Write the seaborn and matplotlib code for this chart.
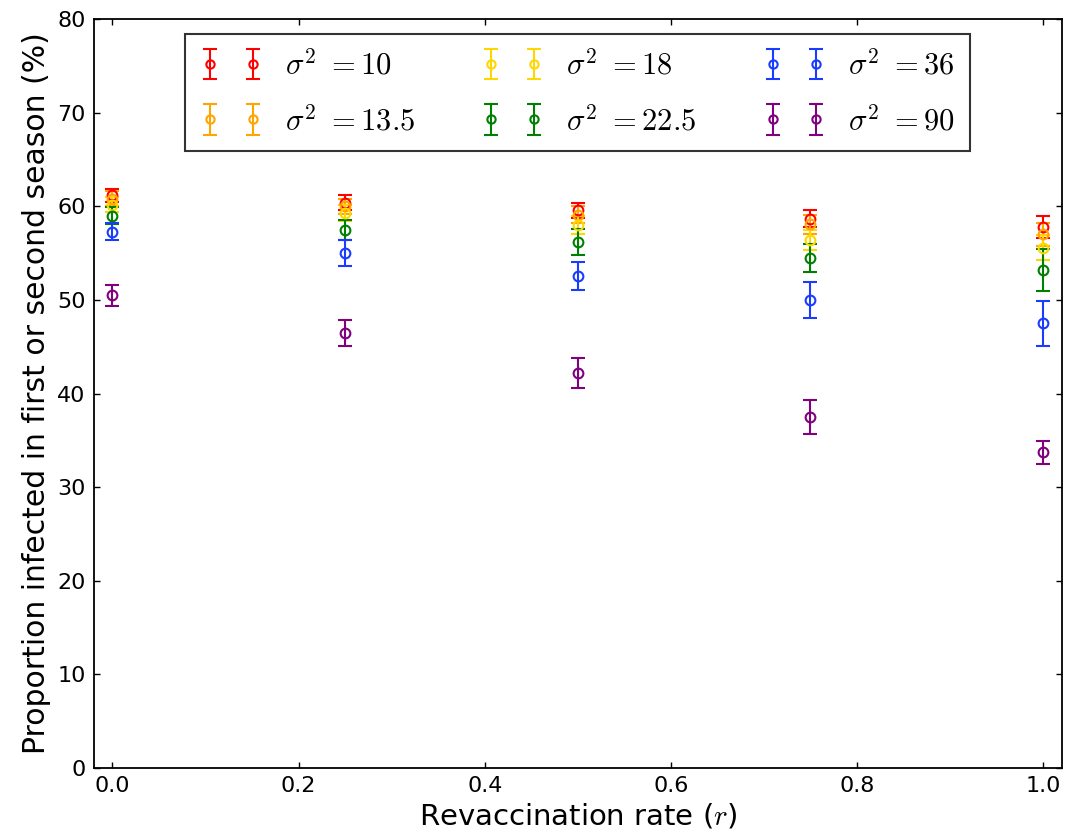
import matplotlib
matplotlib.use("Agg")
import matplotlib.pyplot as plt
import seaborn as sns
import numpy as np

sns.set_theme(style="ticks")
plt.rcParams.update({
    "font.family": ["DejaVu Sans"],
    "mathtext.fontset": "cm",
    "xtick.direction": "in",
    "ytick.direction": "in",
    "xtick.top": True,
    "ytick.right": True,
    "xtick.major.size": 4,
    "ytick.major.size": 4,
    "xtick.major.width": 1.0,
    "ytick.major.width": 1.0,
    "axes.edgecolor": "black",
    "axes.linewidth": 1.3,
    "xtick.color": "black",
    "ytick.color": "black",
    "text.color": "black",
    "axes.labelcolor": "black",
})

rates = [0.0, 0.25, 0.5, 0.75, 1.0]
labels = [r"$\sigma^2\ {=}10$", r"$\sigma^2\ {=}13.5$", r"$\sigma^2\ {=}18$",
          r"$\sigma^2\ {=}22.5$", r"$\sigma^2\ {=}36$", r"$\sigma^2\ {=}90$"]
colors = ["red", "orange", "gold", "green", "#1a3cff", "purple"]

s10 = [61.2, 60.4, 59.6, 58.7, 57.8]
s13 = [60.8, 60.0, 59.1, 58.1, 57.0]
s18 = [60.2, 59.3, 58.0, 56.4, 55.6]
s22 = [59.0, 57.5, 56.2, 54.5, 53.2]
s36 = [57.3, 55.0, 52.6, 50.0, 47.5]
s90 = [50.5, 46.5, 42.2, 37.5, 33.7]

e10 = [0.7, 0.8, 0.8, 0.9, 1.2]
e13 = [0.8, 0.8, 0.9, 1.0, 1.2]
e18 = [0.8, 0.9, 1.0, 1.1, 1.3]
e22 = [0.9, 1.1, 1.4, 1.5, 2.2]
e36 = [0.9, 1.4, 1.5, 1.9, 2.4]
e90 = [1.1, 1.4, 1.6, 1.8, 1.2]

series = [s10, s13, s18, s22, s36, s90]
errs = [e10, e13, e18, e22, e36, e90]

fig = plt.figure(figsize=(10.66, 8.4), dpi=100)
ax = fig.add_axes([0.088, 0.086, 0.908, 0.891])

for vals, err, col, lab in zip(series, errs, colors, labels):
    ax.errorbar(rates, vals, yerr=err, fmt="o", mfc="none", mec=col,
                ecolor=col, color=col, ms=7, mew=1.5, elinewidth=1.5,
                capsize=5, capthick=1.5, label=lab)

ax.set_xlim(-0.02, 1.02)
ax.set_ylim(0, 80)
ax.set_xticks([0.0, 0.2, 0.4, 0.6, 0.8, 1.0])
ax.set_yticks(range(0, 81, 10))
ax.tick_params(labelsize=16, pad=6)
ax.set_xlabel(r"Revaccination rate ($r$)", fontsize=21)
ax.set_ylabel("Proportion infected in first or second season (%)", fontsize=21.5)

leg = ax.legend(loc="upper center", ncol=3, numpoints=2, fontsize=22,
                fancybox=False, frameon=True, edgecolor="black",
                bbox_to_anchor=(0.5, 0.98), borderaxespad=0.0,
                handlelength=2.0, handletextpad=0.75, columnspacing=2.2,
                borderpad=0.5, labelspacing=0.8, markerscale=0.85)
leg.get_frame().set_linewidth(1.5)

fig.savefig("out.png", dpi=100)
